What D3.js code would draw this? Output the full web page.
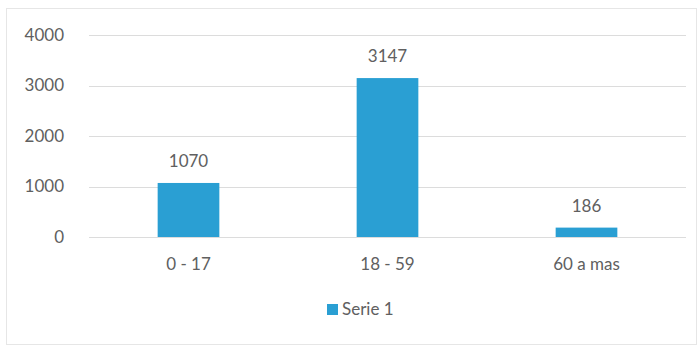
<!DOCTYPE html>
<html><head><meta charset="utf-8">
<script src="https://cdn.jsdelivr.net/npm/d3@7"></script>
<style>body{margin:0;background:#fff}svg{display:block}text{font-family:Lato,"Open Sans",sans-serif;fill:#606060}</style>
</head><body><svg id="c" width="700" height="348"></svg>
<script>
const categories = ["0 - 17", "18 - 59", "60 a mas"];
const values = [1070, 3147, 186];
const yTicks = [0, 1000, 2000, 3000, 4000];
const seriesName = "Serie 1";

const FS = 17;
const svg = d3.select("#c");
svg.append("rect").attr("x",6.5).attr("y",8.5).attr("width",690).attr("height",336)
  .attr("fill","#fff").attr("stroke","#e6e6e6");
const x = d3.scaleBand().domain(categories).range([89, 686]).paddingInner(0.69).paddingOuter(0.345);
const y = d3.scaleLinear().domain([0, 4000]).range([237, 35]);

const grid = svg.append("g");
grid.selectAll("line").data(yTicks).join("line")
  .attr("x1",89).attr("x2",686).attr("y1",d=>Math.round(y(d))+0.5).attr("y2",d=>Math.round(y(d))+0.5)
  .attr("stroke","#dcdcdc").attr("stroke-width",1);

const yAxis = d3.axisLeft(y).tickValues(yTicks).tickFormat(d3.format("d")).tickSize(0).tickPadding(0);
svg.append("g").attr("transform","translate(64,0)").call(yAxis)
  .call(g=>g.select(".domain").remove())
  .call(g=>g.selectAll("text").attr("font-size",FS).style("font-family","Lato,'Open Sans',sans-serif").attr("fill","#606060"));

svg.append("g").selectAll("rect").data(values).join("rect")
  .attr("x",(d,i)=>x(categories[i])).attr("width",x.bandwidth())
  .attr("y",d=>y(d)).attr("height",d=>y(0)-y(d)).attr("fill","#2a9fd3");

svg.append("g").selectAll("text").data(values).join("text")
  .attr("x",(d,i)=>x(categories[i])+x.bandwidth()/2).attr("y",d=>y(d)-16)
  .attr("text-anchor","middle").attr("font-size",FS).text(d=>d);

const xAxis = d3.axisBottom(x).tickSize(0).tickPadding(0);
svg.append("g").attr("transform","translate(0,258)").call(xAxis)
  .call(g=>g.select(".domain").remove())
  .call(g=>g.selectAll("text").attr("font-size",FS).style("font-family","Lato,'Open Sans',sans-serif").attr("fill","#606060"));

const lg = svg.append("g");
lg.append("rect").attr("x",327).attr("y",304).attr("width",11).attr("height",11).attr("fill","#2a9fd3");
lg.append("text").attr("x",342).attr("y",315).attr("font-size",FS).text(seriesName);
</script></body></html>
